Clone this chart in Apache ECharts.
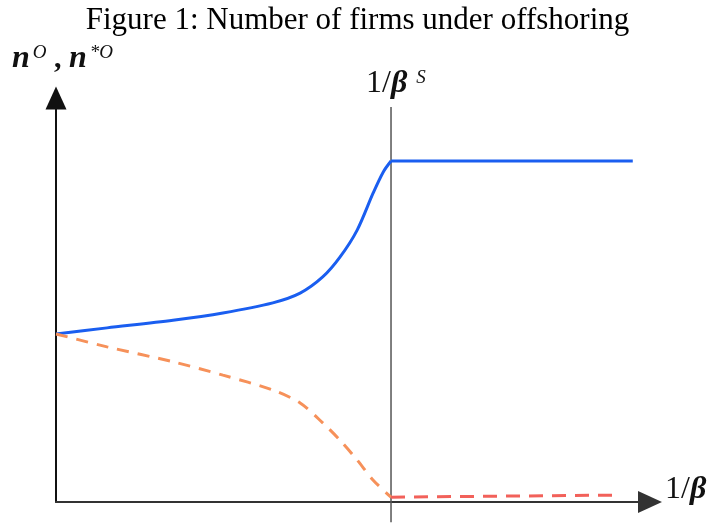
<!DOCTYPE html>
<html>
<head>
<meta charset="utf-8">
<script src="https://cdn.jsdelivr.net/npm/echarts@6/dist/echarts.min.js"></script>
<style>
  html, body { margin: 0; padding: 0; background: #fff; }
  #chart { width: 715px; height: 525px; }
</style>
</head>
<body>
<div id="chart"></div>
<script>
  // curve values (x: 1/beta, y: number of firms), arbitrary units 0..100
  const blueX = [0, 8.6, 19.7, 28.1, 36.5, 41.1, 44.9, 47.8, 50.7, 53.4, 55.1, 56.4];
  const blueY = [41.6, 43.1, 45.0, 46.8, 49.3, 51.7, 55.7, 60.6, 67.3, 76.5, 81.7, 84.4];
  const blueFlatX = [56.4, 97.1];
  const blueFlatY = [84.4, 84.4];
  const orangeX = [0, 8.6, 19.7, 28.1, 36.5, 41.1, 44.9, 47.8, 50.7, 53.4, 56.4];
  const orangeY = [41.6, 38.4, 34.7, 31.4, 27.7, 24.5, 19.6, 15.3, 10.4, 5.4, 1.2];
  const redX = [56.4, 94.1];
  const redY = [1.2, 1.7];
  const thresholdX = 56.4;       // 1/beta^S
  const thresholdSpan = [-5, 97.8];

  const zip = (xs, ys) => xs.map((x, i) => [x, ys[i]]);
  const serif = '"Liberation Serif", "Times New Roman", serif';

  let myChart = echarts.init(document.getElementById('chart'));
  myChart.setOption({
    animation: false,
    title: {
      text: 'Figure 1: Number of firms under offshoring',
      left: 'center', top: 0,
      textStyle: { fontFamily: serif, fontWeight: 'normal', fontSize: 31, color: '#000' }
    },
    grid: { left: 56, right: 65, top: 98, bottom: 23 },
    xAxis: {
      type: 'value', min: 0, max: 100,
      axisLine: { symbol: ['none', 'triangle'], symbolSize: [22, 24], lineStyle: { color: '#333', width: 2 } },
      axisTick: { show: false }, axisLabel: { show: false }, splitLine: { show: false }
    },
    yAxis: {
      type: 'value', min: 0, max: 100,
      axisLine: { show: true, symbol: ['none', 'triangle'], symbolSize: [21, 23], lineStyle: { color: '#111', width: 2 } },
      axisTick: { show: false }, axisLabel: { show: false }, splitLine: { show: false }
    },
    graphic: [
      {
        type: 'text', left: 12, top: 43,
        style: {
          text: '{n|n}{s|O}{c| , }{n|n}{s|*O}',
          rich: {
            n: { fontFamily: serif, fontSize: 32, fontWeight: 'bold', fontStyle: 'italic', fill: '#111' },
            c: { fontFamily: serif, fontSize: 30, fontWeight: 'bold', fill: '#111' },
            s: { fontFamily: serif, fontSize: 19, fontStyle: 'italic', verticalAlign: 'top', fill: '#111', padding: [0, 0, 0, 3] }
          }
        }
      },
      {
        type: 'text', left: 366, top: 68,
        style: {
          text: '{a|1/}{b|β}{s|S}',
          rich: {
            a: { fontFamily: serif, fontSize: 32, fill: '#111' },
            b: { fontFamily: serif, fontSize: 32, fontWeight: 'bold', fontStyle: 'italic', fill: '#111' },
            s: { fontFamily: serif, fontSize: 19, fontStyle: 'italic', verticalAlign: 'top', fill: '#111', padding: [0, 0, 0, 9] }
          }
        }
      },
      {
        type: 'text', left: 665, top: 474,
        style: {
          text: '{a|1/}{b|β}',
          rich: {
            a: { fontFamily: serif, fontSize: 32, fill: '#111' },
            b: { fontFamily: serif, fontSize: 32, fontWeight: 'bold', fontStyle: 'italic', fill: '#111' }
          }
        }
      }
    ],
    series: [
      {
        name: 'threshold', type: 'line', clip: false, symbol: 'none', silent: true,
        data: [[thresholdX, thresholdSpan[0]], [thresholdX, thresholdSpan[1]]],
        lineStyle: { color: '#555', width: 1.5 }
      },
      {
        name: 'nO', type: 'line', symbol: 'none', smooth: 0.3,
        data: zip(blueX, blueY),
        lineStyle: { color: '#1a5ef0', width: 3 }
      },
      {
        name: 'nO flat', type: 'line', symbol: 'none',
        data: zip(blueFlatX, blueFlatY),
        lineStyle: { color: '#1a5ef0', width: 3 }
      },
      {
        name: 'n*O', type: 'line', symbol: 'none', smooth: 0.3,
        data: zip(orangeX, orangeY),
        lineStyle: { color: '#f6915a', width: 3, type: [12, 9] }
      },
      {
        name: 'n*O flat', type: 'line', symbol: 'none',
        data: zip(redX, redY),
        lineStyle: { color: '#f2615a', width: 3, type: [14, 9] }
      }
    ]
  });
</script>
</body>
</html>
